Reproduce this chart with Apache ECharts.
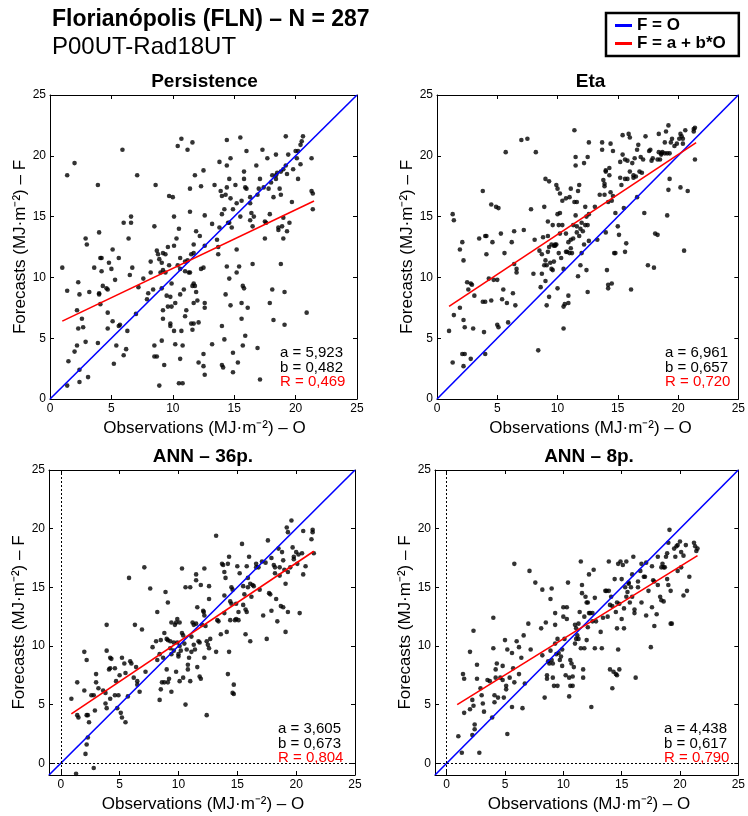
<!DOCTYPE html>
<html><head><meta charset="utf-8">
<script src="https://cdn.jsdelivr.net/npm/echarts@6/dist/echarts.min.js"></script>
<style>html,body{margin:0;padding:0;background:#fff}#c{width:748px;height:816px}</style>
</head><body><div id="c"></div><script>
// ---------- DATA ----------
const mainTitle = 'Florianópolis (FLN) – N = 287';
const subTitle = 'P00UT-Rad18UT';
const panelTitles = ['Persistence', 'Eta', 'ANN – 36p.', 'ANN – 8p.'];
const xLabel = 'Observations (MJ·m⁻²) – O';
const yLabel = 'Forecasts (MJ·m⁻²) – F';
const tickValues = [0, 5, 10, 15, 20, 25];
const axisMin = [0, 0, -1, -1];
const axisMax = [25, 25, 25, 25];
const coefA = [5.923, 6.961, 3.605, 4.438];
const coefB = [0.482, 0.657, 0.673, 0.617];
const coefR = [0.469, 0.720, 0.804, 0.790];
const fitXRange = [[1.0, 21.5], [1.0, 21.5], [0.9, 21.5], [0.9, 21.5]];
const legendNames = ['F = O', 'F = a + b*O'];

const persistence = [[1.0,10.8],[1.4,8.9],[1.4,18.4],[2.0,19.4],[1.5,3.1],[1.4,1.1],[2.2,7.3],[2.2,4.4],[2.0,3.9],[2.3,9.6],[2.4,8.6],[2.3,5.8],[2.6,6.6],[2.7,5.9],[2.4,2.4],[2.4,1.4],[2.9,13.2],[3.0,12.7],[3.2,8.8],[2.9,4.7],[3.1,1.8],[3.6,10.8],[3.9,17.6],[4.0,13.7],[4.0,8.7],[4.0,8.6],[3.9,4.6],[4.1,11.6],[4.2,11.6],[4.2,10.5],[4.1,7.8],[4.3,9.3],[4.6,9.1],[4.7,9.0],[4.7,7.1],[4.7,5.8],[4.8,11.2],[5.0,10.7],[5.1,12.3],[5.3,9.8],[5.1,6.4],[5.2,2.9],[5.4,4.4],[5.6,11.6],[5.6,6.0],[5.7,6.1],[5.9,20.5],[6.0,14.5],[6.0,3.6],[6.2,4.1],[6.3,5.6],[6.4,13.2],[6.5,10.2],[6.6,15.0],[6.6,14.5],[6.7,10.8],[7.0,7.0],[7.1,18.4],[7.2,9.2],[7.6,9.9],[7.9,8.2],[8.0,8.7],[8.2,11.3],[8.2,10.4],[8.4,9.0],[8.5,14.2],[8.5,4.4],[8.5,3.5],[8.7,3.5],[8.6,17.6],[8.7,12.2],[8.8,11.9],[8.9,11.5],[9.1,11.2],[9.1,9.1],[9.2,10.6],[9.0,10.4],[8.9,1.1],[9.1,4.8],[9.2,12.0],[9.2,7.3],[9.2,6.6],[9.3,2.8],[9.4,11.9],[9.4,10.4],[9.5,8.5],[9.6,12.5],[9.6,7.6],[9.7,11.0],[9.8,8.4],[9.8,6.2],[9.7,16.7],[9.9,7.6],[9.8,6.0],[9.9,9.5],[10.0,16.6],[10.1,12.6],[10.1,15.0],[10.1,5.6],[10.2,4.5],[10.2,7.9],[10.3,13.2],[10.4,11.0],[10.4,20.8],[10.5,14.0],[10.6,10.7],[10.6,11.6],[10.7,21.4],[10.6,8.6],[10.7,5.6],[10.6,3.3],[10.5,1.3],[10.8,1.3],[10.8,4.4],[10.9,9.0],[11.0,11.3],[11.0,10.5],[11.1,7.3],[11.0,6.8],[11.2,11.4],[11.2,20.5],[11.3,10.4],[11.4,15.4],[11.4,10.4],[11.4,17.3],[11.5,11.9],[11.5,6.2],[11.6,9.3],[11.6,21.1],[11.6,5.7],[11.7,12.0],[11.7,7.9],[11.7,12.7],[11.7,9.5],[11.8,9.3],[11.7,6.2],[11.8,18.4],[11.9,8.8],[11.9,13.8],[12.0,8.1],[12.1,6.3],[12.1,3.0],[12.2,13.4],[12.3,10.7],[12.3,17.5],[12.5,10.8],[12.5,18.8],[12.5,3.7],[12.5,2.7],[12.6,7.9],[12.6,7.5],[12.6,12.6],[12.6,15.1],[12.6,2.0],[13.2,4.5],[13.2,14.4],[13.4,17.6],[13.6,13.1],[13.7,11.9],[13.7,12.5],[13.8,14.1],[13.8,19.5],[13.9,17.1],[14.0,16.7],[14.0,15.2],[14.0,6.0],[14.0,2.8],[14.1,2.6],[14.2,15.6],[14.2,4.9],[14.3,16.8],[14.3,8.6],[14.4,21.3],[14.4,19.2],[14.4,17.4],[14.4,10.9],[14.5,14.5],[14.6,14.5],[14.6,18.1],[14.6,9.9],[14.7,19.8],[14.7,16.5],[14.7,7.7],[14.8,14.1],[14.9,15.6],[14.9,3.8],[14.9,2.2],[15.1,17.6],[15.2,12.3],[15.2,10.4],[15.2,16.1],[15.3,3.0],[15.4,10.9],[15.5,21.5],[15.5,15.0],[15.6,16.3],[15.6,7.9],[15.6,6.6],[15.7,9.3],[15.7,4.4],[15.8,18.7],[15.8,18.1],[15.8,9.1],[15.9,5.2],[15.9,17.4],[16.0,20.4],[16.0,17.3],[16.1,7.5],[16.3,14.7],[16.3,16.1],[16.3,16.6],[16.4,15.3],[16.5,11.1],[16.5,14.2],[16.6,15.0],[16.8,19.2],[16.9,4.2],[16.9,16.8],[17.0,17.3],[17.1,1.6],[17.1,18.1],[17.3,20.5],[17.4,17.4],[17.5,13.2],[17.5,14.6],[17.6,14.5],[17.7,19.8],[17.8,17.3],[17.9,15.2],[17.9,7.9],[18.0,17.8],[18.1,18.4],[18.1,9.0],[18.2,16.6],[18.2,6.5],[18.4,18.4],[18.4,20.1],[18.4,18.1],[18.5,18.6],[18.6,13.9],[18.6,14.1],[18.7,17.3],[18.8,11.1],[18.8,16.8],[18.8,18.7],[18.9,14.2],[19.0,14.9],[19.0,13.2],[19.0,18.9],[19.1,8.8],[19.1,6.1],[19.2,19.2],[19.2,21.6],[19.3,18.5],[19.3,13.8],[19.4,20.1],[19.5,14.5],[19.7,16.2],[19.8,18.9],[20.0,20.4],[20.1,19.8],[20.2,20.4],[20.2,18.1],[20.4,19.3],[20.4,20.9],[20.5,21.2],[20.6,21.6],[20.9,7.1],[21.3,19.8],[21.3,17.1],[21.4,16.9],[21.4,15.6]];

const eta = [[1.0,5.6],[1.3,3.0],[1.3,15.2],[1.4,14.7],[1.4,6.9],[1.9,12.3],[1.9,7.5],[2.1,12.9],[2.2,11.4],[2.2,6.5],[2.3,5.9],[2.1,3.7],[2.3,3.7],[2.2,2.7],[2.5,9.6],[2.6,9.0],[2.8,9.5],[2.9,9.4],[2.8,3.3],[3.1,8.5],[3.0,5.8],[3.5,13.2],[3.8,17.1],[3.8,8.0],[3.9,5.5],[4.0,3.7],[4.0,13.4],[4.1,13.4],[4.0,8.0],[4.1,11.9],[4.3,9.9],[4.5,8.1],[4.5,16.0],[4.6,12.9],[4.7,9.8],[4.9,15.8],[5.0,9.8],[5.0,6.1],[5.1,5.9],[5.1,15.7],[5.3,13.6],[5.4,8.2],[5.5,9.0],[5.6,12.0],[5.7,20.3],[5.8,7.9],[5.9,6.3],[6.2,12.9],[6.3,8.7],[6.4,13.8],[6.4,11.1],[6.5,7.7],[6.6,10.4],[6.6,10.7],[7.0,21.3],[7.2,13.9],[7.5,21.4],[7.8,15.6],[8.0,10.3],[8.1,13.1],[8.2,20.3],[8.4,4.0],[8.5,12.2],[8.6,9.2],[8.7,10.3],[8.7,11.9],[8.8,13.3],[8.9,15.8],[9.0,18.1],[9.0,11.4],[8.9,11.0],[9.0,9.7],[9.1,11.0],[9.1,7.7],[9.2,12.1],[9.2,14.6],[9.2,13.4],[9.3,12.5],[9.3,17.9],[9.3,8.4],[9.4,11.2],[9.5,10.7],[9.5,12.7],[9.6,14.3],[9.6,10.6],[9.7,12.6],[9.7,11.3],[9.8,12.6],[9.8,12.7],[9.9,12.7],[9.9,17.6],[10.0,17.3],[10.0,15.2],[10.0,9.1],[10.1,12.0],[10.1,14.3],[10.2,15.3],[10.2,13.6],[10.2,16.9],[10.3,11.6],[10.4,14.3],[10.4,16.3],[10.5,10.7],[10.5,5.8],[10.5,7.6],[10.6,7.8],[10.7,13.6],[10.7,16.5],[10.7,12.1],[10.8,12.1],[10.9,12.9],[10.9,7.9],[10.9,8.5],[11.0,16.6],[11.0,12.0],[11.1,12.4],[11.1,13.1],[11.1,17.3],[11.2,12.0],[11.3,14.3],[11.3,13.2],[11.4,16.2],[11.4,22.1],[11.5,19.9],[11.5,19.2],[11.5,15.1],[11.6,13.7],[11.6,14.2],[11.6,16.2],[11.7,10.1],[11.7,17.1],[11.8,13.4],[11.8,17.6],[11.9,11.0],[11.9,14.0],[12.0,12.0],[12.0,14.5],[12.1,13.8],[12.2,12.7],[12.2,19.4],[12.3,15.8],[12.3,14.3],[12.4,15.0],[12.4,10.6],[12.5,8.8],[12.5,14.3],[12.5,19.9],[12.6,21.1],[12.6,13.0],[12.6,15.2],[13.1,15.8],[13.3,13.1],[13.5,16.8],[13.7,21.1],[13.7,20.5],[13.8,18.0],[13.9,17.5],[13.9,17.7],[13.9,16.8],[14.0,13.7],[14.0,18.8],[14.0,18.7],[14.1,10.6],[14.2,16.2],[14.2,9.4],[14.2,9.1],[14.3,19.0],[14.3,18.4],[14.4,17.0],[14.4,21.0],[14.5,16.3],[14.5,9.5],[14.6,20.4],[14.6,16.7],[14.7,12.0],[14.8,12.0],[14.8,15.3],[15.0,14.2],[15.1,13.5],[15.2,18.2],[15.2,19.5],[15.3,17.6],[15.4,21.7],[15.4,20.1],[15.5,15.7],[15.6,19.7],[15.6,12.1],[15.6,18.1],[15.7,12.8],[15.8,19.6],[15.8,18.1],[15.9,21.8],[16.0,18.7],[16.0,21.5],[16.1,9.0],[16.2,19.4],[16.3,18.4],[16.3,18.2],[16.4,19.8],[16.5,18.3],[16.6,20.5],[16.6,16.6],[16.7,20.9],[16.8,18.7],[16.9,19.9],[17.0,18.6],[17.1,19.7],[17.2,15.3],[17.3,21.6],[17.5,11.0],[17.6,20.4],[17.7,20.5],[17.8,19.6],[17.9,19.8],[18.0,10.8],[18.1,13.6],[18.3,19.7],[18.3,13.5],[18.4,20.3],[18.4,21.8],[18.5,19.7],[18.6,20.1],[18.6,20.2],[18.7,20.3],[18.9,21.1],[18.9,20.2],[19.0,22.0],[19.1,15.1],[19.1,20.2],[19.2,22.5],[19.2,17.2],[19.3,18.1],[19.3,20.2],[19.4,21.1],[19.5,21.4],[19.7,20.8],[19.9,21.0],[20.1,21.4],[20.2,21.8],[20.2,17.4],[20.3,21.6],[20.4,21.0],[20.4,21.4],[20.5,12.2],[20.6,22.1],[20.8,17.1],[21.3,22.2],[21.3,22.0],[21.4,19.7],[21.4,22.3]];

const ann36 = [[0.9,5.5],[1.4,6.9],[1.4,4.1],[1.5,3.9],[1.3,-0.9],[2.0,9.5],[2.2,8.8],[2.0,6.2],[2.2,4.1],[2.3,4.1],[2.4,3.5],[2.3,2.2],[2.2,1.6],[2.1,0.8],[2.6,5.8],[2.8,5.8],[2.8,-0.4],[2.9,4.5],[3.0,7.6],[3.0,6.9],[3.2,6.4],[3.6,6.2],[3.8,6.0],[3.8,5.1],[3.9,4.7],[3.9,11.8],[3.9,9.6],[4.1,8.0],[4.2,8.1],[4.2,9.0],[4.3,8.9],[4.2,5.5],[4.6,5.8],[4.6,8.1],[4.7,7.0],[4.9,5.8],[4.8,4.7],[5.0,7.5],[5.1,4.3],[5.2,3.9],[5.2,9.0],[5.4,8.5],[5.5,3.5],[5.5,7.7],[5.7,5.7],[5.8,15.8],[5.9,8.7],[6.0,8.5],[6.2,7.3],[6.3,11.8],[6.4,8.2],[6.5,7.0],[6.5,6.7],[6.7,6.1],[6.9,11.4],[7.1,16.7],[7.2,7.8],[7.6,14.9],[7.8,9.9],[8.1,10.4],[8.2,12.9],[8.2,8.8],[8.4,9.3],[8.4,5.4],[8.5,6.3],[8.5,10.5],[8.6,6.9],[8.7,9.0],[8.8,11.1],[8.8,6.9],[8.9,14.6],[9.0,10.6],[9.0,8.0],[9.1,13.7],[9.1,6.9],[9.1,10.5],[9.2,7.2],[9.3,10.4],[9.3,9.8],[9.4,12.0],[9.4,6.1],[9.4,9.3],[9.6,10.3],[9.6,9.6],[9.7,11.8],[9.8,7.8],[9.8,12.0],[9.9,10.3],[9.9,12.3],[10.0,9.3],[10.0,9.1],[10.1,10.0],[10.1,12.0],[10.1,7.0],[10.2,9.6],[10.3,11.1],[10.3,16.6],[10.4,10.9],[10.4,7.3],[10.5,10.2],[10.6,15.0],[10.6,5.0],[10.7,9.7],[10.8,8.0],[10.8,8.4],[10.9,9.0],[11.0,15.0],[11.0,7.0],[11.1,9.5],[11.1,10.8],[11.2,12.0],[11.3,10.1],[11.3,11.8],[11.4,9.7],[11.5,11.9],[11.5,15.6],[11.5,16.1],[11.6,13.3],[11.6,8.2],[11.7,10.4],[11.8,7.4],[11.8,10.3],[11.9,15.2],[11.9,7.2],[12.0,11.8],[12.1,13.0],[12.15,12.9],[12.2,9.0],[12.2,12.6],[12.2,16.6],[12.3,11.7],[12.4,10.4],[12.4,4.1],[12.5,10.1],[12.6,9.8],[12.6,14.0],[12.6,15.1],[12.7,10.6],[13.2,19.4],[13.2,9.5],[13.3,12.2],[13.4,12.1],[13.6,11.0],[13.7,17.0],[13.8,16.9],[13.9,16.3],[13.9,14.3],[13.9,12.8],[14.0,15.8],[14.1,11.2],[14.2,17.0],[14.2,7.6],[14.3,9.5],[14.3,17.6],[14.4,13.8],[14.4,12.2],[14.5,13.6],[14.5,15.0],[14.6,6.0],[14.6,14.8],[14.7,6.7],[14.7,5.9],[14.8,12.2],[14.9,13.6],[14.9,12.3],[15.0,16.8],[15.1,12.2],[15.1,12.9],[15.2,16.2],[15.4,18.7],[15.5,13.5],[15.5,15.1],[15.6,14.4],[15.7,13.1],[15.7,11.0],[15.8,16.8],[15.8,12.9],[15.9,15.0],[15.9,15.8],[16.0,17.6],[16.1,15.3],[16.1,10.4],[16.2,14.2],[16.3,15.2],[16.4,15.1],[16.6,16.7],[16.6,17.0],[16.8,16.7],[16.9,14.8],[17.1,17.2],[17.2,12.6],[17.4,17.1],[17.5,10.6],[17.6,19.0],[17.7,14.5],[17.8,14.4],[17.9,13.0],[17.9,17.5],[18.1,16.9],[18.2,16.7],[18.2,16.2],[18.3,14.0],[18.4,12.1],[18.5,18.3],[18.6,16.7],[18.6,16.0],[18.7,13.4],[18.8,18.0],[18.9,13.3],[18.9,17.3],[19.0,16.5],[19.1,11.2],[19.1,15.3],[19.2,20.1],[19.3,19.7],[19.3,12.9],[19.3,16.3],[19.5,16.7],[19.6,20.7],[19.7,18.4],[19.8,17.6],[19.8,17.4],[20.0,18.0],[20.1,17.0],[20.2,17.8],[20.3,12.8],[20.5,17.9],[20.6,19.8],[20.6,16.1],[20.8,16.8],[21.3,19.1],[21.4,19.9],[21.4,19.7],[21.5,17.9]];

const ann8 = [[1.0,2.3],[1.3,0.9],[1.4,7.6],[1.5,7.2],[1.5,4.3],[2.0,9.5],[2.0,4.6],[2.3,11.3],[2.2,5.4],[2.3,4.9],[2.4,2.9],[2.4,3.3],[2.2,2.4],[2.6,8.4],[2.6,7.2],[2.8,0.9],[2.9,6.4],[3.0,5.8],[3.1,5.1],[3.2,4.4],[3.5,7.1],[3.7,7.0],[3.9,3.9],[4.0,12.4],[4.0,9.8],[4.1,5.8],[4.2,8.0],[4.1,5.2],[4.2,7.3],[4.3,8.5],[4.4,5.6],[4.6,7.3],[4.8,7.1],[4.8,8.3],[4.9,5.6],[5.0,10.5],[5.1,6.6],[5.1,6.3],[5.2,2.5],[5.2,9.7],[5.4,7.3],[5.6,4.8],[5.6,9.4],[5.7,8.1],[5.8,17.0],[5.8,6.9],[6.0,10.4],[6.2,7.6],[6.2,9.9],[6.4,9.0],[6.5,4.7],[6.6,10.9],[6.7,6.8],[7.0,11.9],[7.1,16.4],[7.2,9.7],[7.6,15.4],[8.1,11.5],[8.2,14.8],[8.2,9.2],[8.4,5.6],[8.5,12.0],[8.6,7.5],[8.6,7.2],[8.7,8.7],[8.8,8.5],[8.9,14.0],[8.9,9.6],[9.0,8.8],[9.0,14.9],[9.1,7.3],[9.1,8.5],[9.2,6.6],[9.3,12.8],[9.3,11.8],[9.3,10.2],[9.4,9.3],[9.5,6.6],[9.5,10.6],[9.6,9.4],[9.7,8.8],[9.8,9.1],[9.9,9.7],[9.9,8.3],[10.0,13.3],[10.0,12.5],[10.1,10.6],[10.2,7.5],[10.3,12.3],[10.3,13.3],[10.4,15.4],[10.5,7.3],[10.5,5.7],[10.6,8.8],[10.6,6.6],[10.7,8.5],[10.8,7.4],[10.8,6.6],[10.9,8.2],[11.0,11.8],[11.0,10.2],[11.1,11.5],[11.1,10.6],[11.2,10.9],[11.3,10.6],[11.3,11.9],[11.4,12.9],[11.5,17.2],[11.5,9.8],[11.6,15.2],[11.6,14.5],[11.7,8.0],[11.7,7.3],[11.8,9.8],[11.8,12.5],[11.9,14.2],[12.0,13.7],[12.0,10.5],[12.1,11.6],[12.1,13.7],[12.2,12.8],[12.2,16.1],[12.3,12.8],[12.4,4.8],[12.5,12.8],[12.5,12.1],[12.6,16.5],[12.7,14.1],[12.7,9.8],[12.8,12.1],[13.2,11.2],[13.3,9.8],[13.4,12.4],[13.6,14.7],[13.7,14.7],[13.8,12.5],[13.9,14.7],[13.9,17.2],[14.0,8.0],[14.0,13.5],[14.1,14.2],[14.2,13.4],[14.2,6.4],[14.3,7.8],[14.4,15.7],[14.5,12.9],[14.5,7.6],[14.6,13.7],[14.6,7.5],[14.6,11.5],[14.7,17.0],[14.7,9.7],[14.8,13.6],[14.8,8.0],[14.9,17.2],[15.0,12.3],[15.0,15.7],[15.1,16.9],[15.2,11.5],[15.2,13.2],[15.3,15.0],[15.4,14.2],[15.4,17.2],[15.5,14.6],[15.6,15.3],[15.6,15.4],[15.7,13.7],[15.8,15.0],[15.9,14.2],[15.9,16.1],[16.0,17.6],[16.1,13.1],[16.1,12.8],[16.2,7.3],[16.4,15.0],[16.4,15.5],[16.6,16.4],[16.7,13.7],[16.7,17.0],[16.9,15.9],[17.0,15.9],[17.1,17.1],[17.1,12.6],[17.3,14.7],[17.5,9.9],[17.6,16.8],[17.6,13.3],[17.7,15.6],[17.8,11.7],[17.8,15.5],[18.0,12.7],[18.1,17.6],[18.1,15.2],[18.3,14.2],[18.4,16.7],[18.4,13.9],[18.5,17.0],[18.6,13.8],[18.6,16.7],[18.7,16.7],[18.8,17.6],[18.9,17.9],[18.9,15.7],[19.0,15.2],[19.0,18.8],[19.1,19.9],[19.2,11.9],[19.2,14.7],[19.3,11.9],[19.5,18.3],[19.6,17.6],[19.7,18.5],[19.8,16.4],[19.8,18.6],[20.0,18.9],[20.1,16.7],[20.1,18.0],[20.3,17.7],[20.3,14.3],[20.5,18.6],[20.6,14.7],[20.8,15.9],[21.2,18.8],[21.3,18.5],[21.4,18.1],[21.5,18.3]];

const panelData = [persistence, eta, ann36, ann8];

// ---------- LAYOUT ----------
const grids = [
  {left: 50, top: 95, width: 307, height: 304},
  {left: 437, top: 95, width: 305, height: 304},
  {left: 49, top: 470, width: 306, height: 305},
  {left: 435, top: 470, width: 306, height: 305}
];
const FONT = '"Liberation Sans", Arial, Helvetica, sans-serif';
const fmt = v => v.toFixed(3).replace('.', ',');

const xAxes = [], yAxes = [], series = [], graphics = [];
grids.forEach((g, i) => {
  const mn = axisMin[i], mx = axisMax[i];
  const base = {
    type: 'value', min: mn, max: mx, gridIndex: i,
    splitLine: {show: false},
    axisLine: {show: true, onZero: false, lineStyle: {color: '#000', width: 1}},
    axisTick: {show: true, inside: true, length: 4, customValues: tickValues, lineStyle: {color: '#000', width: 1}},
  };
  const lbl = {show: true, customValues: tickValues, color: '#000', fontSize: 12, fontFamily: FONT, margin: 4};
  xAxes.push(Object.assign({}, base, {position: 'bottom', axisLabel: lbl}));
  xAxes.push(Object.assign({}, base, {position: 'top', axisLabel: {show: false}}));
  yAxes.push(Object.assign({}, base, {position: 'left', axisLabel: Object.assign({}, lbl, {margin: 4})}));
  yAxes.push(Object.assign({}, base, {position: 'right', axisLabel: {show: false}}));

  const scatter = {
    type: 'scatter', name: 'obs', xAxisIndex: 2 * i, yAxisIndex: 2 * i,
    data: panelData[i], symbol: 'circle', symbolSize: 4.6,
    itemStyle: {color: '#000'}, silent: true, z: 2
  };
  if (mn < 0) {
    scatter.markLine = {
      silent: true, symbol: 'none', label: {show: false},
      lineStyle: {color: '#000', width: 1, type: [2, 2]},
      data: [{xAxis: 0}, {yAxis: 0}]
    };
  }
  series.push(scatter);
  series.push({
    type: 'line', name: legendNames[0], xAxisIndex: 2 * i, yAxisIndex: 2 * i,
    data: [[mn, mn], [mx, mx]], symbol: 'none', silent: true, z: 3,
    lineStyle: {color: '#0000ff', width: 1.6}, itemStyle: {color: '#0000ff'}
  });
  const fx = fitXRange[i];
  series.push({
    type: 'line', name: legendNames[1], xAxisIndex: 2 * i, yAxisIndex: 2 * i,
    data: fx.map(x => [x, coefA[i] + coefB[i] * x]), symbol: 'none', silent: true, z: 4,
    lineStyle: {color: '#ff0000', width: 1.6}, itemStyle: {color: '#ff0000'}
  });

  const cx = g.left + g.width / 2, cy = g.top + g.height / 2;
  const bottom = g.top + g.height;
  const txt = (x, y, text, font, extra) => Object.assign({
    type: 'text', x: x, y: y,
    style: Object.assign({text: text, font: font, fill: '#000', textAlign: 'center', align: 'center', textVerticalAlign: 'middle', verticalAlign: 'middle'}, extra || {})
  });
  graphics.push(txt(cx + 1, g.top - 13, panelTitles[i], 'bold 19px ' + FONT));
  graphics.push(txt(cx + 1, bottom + 29, xLabel, '17px ' + FONT));
  const yl = txt(g.left - 30, cy, yLabel, '17px ' + FONT);
  yl.rotation = Math.PI / 2;
  graphics.push(yl);
  const ax = g.left + g.width - 77, ay = bottom - 46;
  const left = {textAlign: 'left', align: 'left'};
  graphics.push(txt(ax, ay, 'a = ' + fmt(coefA[i]), '15px ' + FONT, left));
  graphics.push(txt(ax, ay + 14.5, 'b = ' + fmt(coefB[i]), '15px ' + FONT, left));
  graphics.push(txt(ax, ay + 29, 'R = ' + fmt(coefR[i]), '15px ' + FONT, Object.assign({fill: '#ff0000'}, left)));
});

graphics.push({type: 'text', x: 52, y: 20, style: {text: mainTitle, font: 'bold 23px ' + FONT, fill: '#000', textAlign: 'left', align: 'left', textVerticalAlign: 'middle', verticalAlign: 'middle'}});
graphics.push({type: 'text', x: 52, y: 47, style: {text: subTitle, font: '24px ' + FONT, fill: '#000', textAlign: 'left', align: 'left', textVerticalAlign: 'middle', verticalAlign: 'middle'}});

const chart = echarts.init(document.getElementById('c'), null, {renderer: 'canvas'});
chart.setOption({
  animation: false,
  backgroundColor: '#fff',
  grid: grids.map(g => Object.assign({show: false}, g)),
  xAxis: xAxes,
  yAxis: yAxes,
  legend: {
    data: legendNames, left: 606, top: 13, orient: 'vertical',
    icon: 'rect', itemWidth: 17, itemHeight: 3, itemGap: 1,
    padding: [4, 13, 4, 9], borderColor: '#000', borderWidth: 2.5,
    textStyle: {fontFamily: FONT, fontWeight: 'bold', fontSize: 17, color: '#000'},
    selectedMode: false
  },
  series: series,
  graphic: {elements: graphics}
});
</script></body></html>
